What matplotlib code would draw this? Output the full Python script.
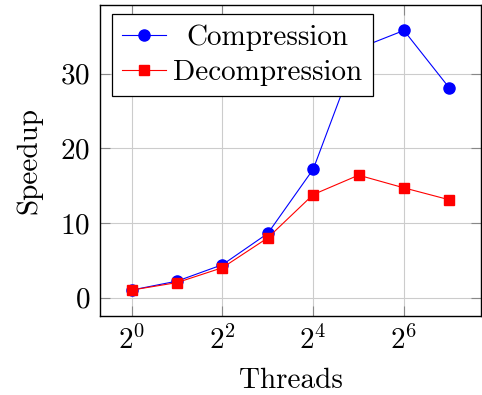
import matplotlib
matplotlib.use("Agg")
import matplotlib.pyplot as plt
import numpy as np

plt.rcParams["font.family"] = "serif"
plt.rcParams["font.serif"] = ["cmr10"]
plt.rcParams["mathtext.fontset"] = "cm"
plt.rcParams["axes.unicode_minus"] = False
plt.rcParams["axes.formatter.use_mathtext"] = True

# data
threads = [1, 2, 4, 8, 16, 32, 64, 128]
compression = [1.0, 2.2, 4.4, 8.6, 17.2, 33.4, 35.8, 28.1]
decompression = [1.0, 2.0, 4.0, 8.0, 13.8, 16.4, 14.7, 13.1]
xticks = [1, 4, 16, 64]
xticklabels = ["$2^{0}$", "$2^{2}$", "$2^{4}$", "$2^{6}$"]
yticks = [0, 10, 20, 30]

fs = 21

fig = plt.figure(figsize=(4.82, 3.95), dpi=100)
ax = fig.add_axes([0.2075, 0.2, 0.7905, 0.7886])

ax.plot(threads, compression, color="#0000ff", lw=0.8, marker="o", ms=8,
        label="Compression", zorder=3)
ax.plot(threads, decompression, color="#ff0000", lw=0.8, marker="s", ms=7,
        label="Decompression", zorder=3)

ax.set_xscale("log", base=2)
# pgfplots style enlarge limits 10%
lx = np.log2(threads)
dx = (lx.max() - lx.min()) * 0.1
ax.set_xlim(2 ** (lx.min() - dx), 2 ** (lx.max() + dx))
ymin = min(min(compression), min(decompression))
ymax = max(max(compression), max(decompression))
dy = (ymax - ymin) * 0.1
ax.set_ylim(ymin - dy, ymax + dy)

ax.set_xticks(xticks)
ax.set_xticklabels(xticklabels)
ax.xaxis.set_minor_locator(matplotlib.ticker.NullLocator())
ax.set_yticks(yticks)
ax.tick_params(axis="both", direction="in", length=7, width=0.8, color="#888888",
               labelsize=fs, top=True, right=True, pad=7)
ax.grid(True, color="#cccccc", lw=0.8)
ax.set_axisbelow(True)
for s in ax.spines.values():
    s.set_linewidth(1.0)
    s.set_zorder(5)

ax.set_xlabel("Threads", fontsize=fs, labelpad=9)
ax.set_ylabel("Speedup", fontsize=fs, labelpad=13)

leg = ax.legend(loc="upper left", bbox_to_anchor=(0.0315, 0.9695), borderaxespad=0,
                fontsize=fs, fancybox=False, framealpha=1, edgecolor="black",
                handlelength=1.5, handletextpad=0.25, labelspacing=0.3, borderpad=0.35)
leg.get_frame().set_linewidth(0.9)
leg.set_zorder(10)

# center legend texts like pgfplots
fig.canvas.draw()
r = fig.canvas.get_renderer()
texts = leg.get_texts()
widths = [t.get_window_extent(r).width for t in texts]
wmax = max(widths)
for t, w in zip(texts, widths):
    t.set_x((wmax - w) / 2)

fig.savefig("out.png", dpi=100)
